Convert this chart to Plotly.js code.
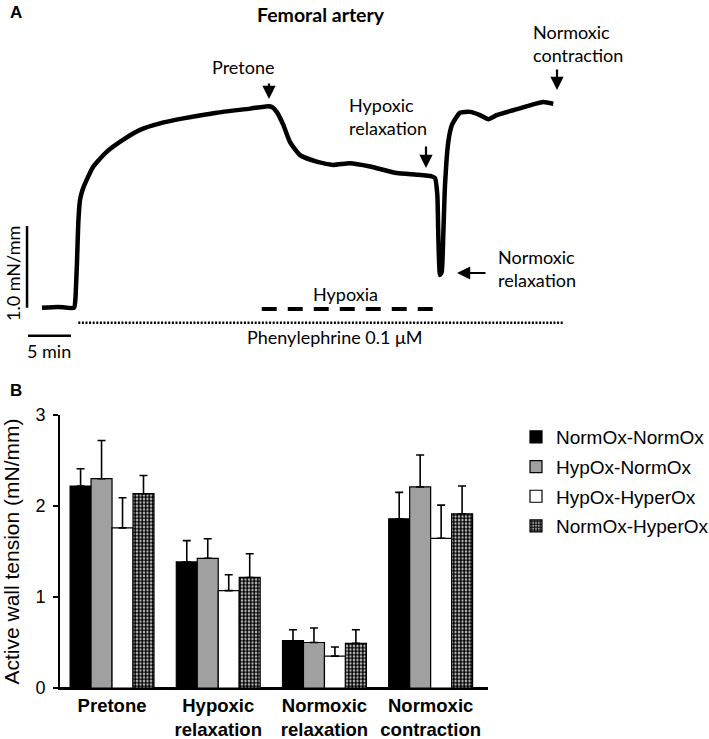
<!DOCTYPE html>
<html>
<head>
<meta charset="utf-8">
<script src="https://cdn.plot.ly/plotly-3.0.1.min.js"></script>
<style>html,body{margin:0;padding:0;background:#fff;}#chart{width:709px;height:739px;}</style>
</head>
<body>
<div id="chart"></div>
<script>
// ---------- Panel A: tension trace (time in min, tension in mN/mm) ----------
const traceTime = [0, 1.86, 3.72, 3.88, 3.97, 4.07, 4.22, 4.42, 4.70, 5.0, 5.97, 7.52, 9.45, 11.40, 13.72, 16.43, 20.31, 24.19, 26.31, 26.74, 27.29, 28.06, 28.84, 30.0, 31.94, 33.87, 35.81, 38.14, 41.24, 43.57, 45.31, 45.70, 45.97, 46.08, 46.28, 46.48, 46.66, 46.86, 47.24, 47.67, 48.60, 49.77, 50.93, 51.90, 52.87, 54.80, 56.74, 58.29, 59.45];
const traceTension = [0.00, 0.01, 0.00, 0.10, 0.30, 0.56, 1.04, 1.32, 1.44, 1.52, 1.73, 1.91, 2.06, 2.18, 2.26, 2.32, 2.39, 2.44, 2.47, 2.46, 2.40, 2.24, 2.03, 1.87, 1.79, 1.75, 1.77, 1.73, 1.65, 1.63, 1.61, 1.59, 1.38, 0.89, 0.40, 0.44, 0.89, 1.50, 2.03, 2.24, 2.39, 2.40, 2.36, 2.31, 2.36, 2.42, 2.48, 2.52, 2.50];
const hypoxiaPeriod = [25.55, 45.70];       // min
const phenylephrinePeriod = [4.22, 60.55];  // min
const scaleBarTime = 5;      // min
const scaleBarTension = 1.0; // mN/mm

// ---------- Panel B: bar chart ----------
const categories = ["Pretone", "Hypoxic<br>relaxation", "Normoxic<br>relaxation", "Normoxic<br>contraction"];
const seriesNames = ["NormOx-NormOx", "HypOx-NormOx", "HypOx-HyperOx", "NormOx-HyperOx"];
const normNorm = [2.22, 1.385, 0.52, 1.86];
const normNormErr = [0.19, 0.235, 0.12, 0.29];
const hypNorm = [2.30, 1.425, 0.50, 2.21];
const hypNormErr = [0.42, 0.215, 0.16, 0.35];
const hypHyper = [1.76, 1.07, 0.35, 1.645];
const hypHyperErr = [0.33, 0.175, 0.10, 0.365];
const normHyper = [2.135, 1.215, 0.49, 1.915];
const normHyperErr = [0.20, 0.26, 0.15, 0.305];
const yTicks = [0, 1, 2, 3];

const W = 709, H = 739;
const px = x => x / W;
const py = y => 1 - y / H;

const serif = 'Lato, "Noto Sans", sans-serif';
const arial = 'Arial, "Liberation Sans", sans-serif';

function barTrace(name, vals, errs, fill, pattern) {
  const t = {
    type: 'bar', name: name, x: categories, y: vals,
    xaxis: 'x', yaxis: 'y', legendgroup: name,
    marker: { color: fill, line: { color: '#000', width: 1.2 } },
    error_y: { type: 'data', symmetric: false, array: errs, arrayminus: errs.map(() => 0),
               color: '#000', thickness: 1.6, width: 4 },
    hoverinfo: 'skip'
  };
  if (pattern) t.marker.pattern = pattern;
  return t;
}

const data = [
  { type: 'scatter', mode: 'lines', x: traceTime, y: traceTension, xaxis: 'x2', yaxis: 'y2',
    line: { color: '#000', width: 4.5, shape: 'spline', smoothing: 0.5 }, showlegend: false, hoverinfo: 'skip' },
  barTrace(seriesNames[0], normNorm, normNormErr, '#000000'),
  barTrace(seriesNames[1], hypNorm, hypNormErr, '#a0a0a0'),
  barTrace(seriesNames[2], hypHyper, hypHyperErr, '#ffffff'),
  barTrace(seriesNames[3], normHyper, normHyperErr, '#ffffff',
           { shape: '.', fgcolor: '#000', bgcolor: '#fff', size: 3.5, solidity: 0.7 })
];

function txt(t, x, y, opts) {
  return Object.assign({ text: t, x: px(x), y: py(y), xref: 'paper', yref: 'paper',
    showarrow: false, xanchor: 'center', yanchor: 'middle', align: 'left',
    font: { family: serif, size: 18, color: '#000' } }, opts || {});
}
function arrow(x, y, ax, ay) {
  return { text: '', x: px(x), y: py(y), xref: 'paper', yref: 'paper', showarrow: true,
    ax: ax, ay: ay, arrowhead: 2, arrowsize: 1.2, arrowwidth: 2.2, arrowcolor: '#000', standoff: 0 };
}

const annotations = [
  txt('<b>A</b>', 8, 13, { xanchor: 'left', font: { family: arial, size: 17, color: '#000' } }),
  txt('<b>B</b>', 8, 391, { xanchor: 'left', font: { family: arial, size: 17, color: '#000' } }),
  txt('<b>Femoral artery</b>', 321, 14, { font: { family: serif, size: 19.5, color: '#000' } }),
  txt('Pretone', 243, 67),
  txt('Hypoxic<br>relaxation', 347, 117, { xanchor: 'left' }),
  txt('Normoxic<br>contraction', 531, 43, { xanchor: 'left' }),
  txt('Normoxic<br>relaxation', 496, 268, { xanchor: 'left' }),
  txt('Hypoxia', 345, 294),
  txt('Phenylephrine 0.1 μM', 335, 337),
  txt('5 min', 49, 351),
  txt('1.0 mN/mm', 13, 274, { textangle: -90 }),
  arrow(269, 99, 0, -17),
  arrow(426, 168, 0, -23),
  arrow(557, 90, 0, -22),
  arrow(457, 273, 30, 0)
];

const shapes = [
  { type: 'line', xref: 'x2', yref: 'y2', x0: -1.74, x1: -1.74, y0: 0, y1: scaleBarTension,
    line: { color: '#000', width: 2.5 } },
  { type: 'line', xref: 'x2', yref: 'y2', x0: -1.63, x1: -1.63 + scaleBarTime, y0: -0.343, y1: -0.343,
    line: { color: '#000', width: 2.5 } },
  { type: 'line', xref: 'x2', yref: 'y2', x0: hypoxiaPeriod[0], x1: hypoxiaPeriod[1], y0: -0.016, y1: -0.016,
    line: { color: '#000', width: 4, dash: '15px,11px' } },
  { type: 'line', xref: 'x2', yref: 'y2', x0: phenylephrinePeriod[0], x1: phenylephrinePeriod[1], y0: -0.184, y1: -0.184,
    line: { color: '#000', width: 2.5, dash: '2px,1.6px' } }
];

const layout = {
  width: W, height: H,
  margin: { l: 0, r: 0, t: 0, b: 0, autoexpand: false },
  paper_bgcolor: '#fff', plot_bgcolor: 'rgba(0,0,0,0)',
  barmode: 'group', bargap: 0.21, bargroupgap: 0,
  showlegend: true,
  legend: { x: px(516), y: py(418), xanchor: 'left', yanchor: 'top',
    font: { family: arial, size: 19, color: '#000' }, tracegroupgap: 2,
    bgcolor: 'rgba(0,0,0,0)', itemclick: false },
  xaxis: { domain: [px(60), px(488)], anchor: 'y', range: [-0.49, 3.54],
    showline: true, linecolor: '#000', linewidth: 2, ticks: '', showgrid: false, zeroline: false,
    tickfont: { family: arial, size: 18.5, color: '#000', weight: 'bold' }, fixedrange: true },
  yaxis: { domain: [py(688), py(415)], anchor: 'x', range: [0, 3],
    tickvals: yTicks, ticktext: yTicks.map(String),
    showline: true, linecolor: '#000', linewidth: 2, ticks: 'outside', ticklen: 5, tickwidth: 2, tickcolor: '#000',
    showgrid: false, zeroline: true, zerolinecolor: '#000', zerolinewidth: 2, ticklabelstandoff: 4,
    tickfont: { family: arial, size: 18, color: '#000' },
    title: { text: 'Active wall tension (mN/mm)', font: { family: arial, size: 21, color: '#000' }, standoff: 10 },
    fixedrange: true },
  xaxis2: { domain: [0, 1], anchor: 'y2', range: [-4.884, 77.558], visible: false, fixedrange: true },
  yaxis2: { domain: [0.5, 1], anchor: 'x2', range: [-0.757, 3.771], visible: false, fixedrange: true },
  annotations: annotations,
  shapes: shapes
};

Plotly.newPlot('chart', data, layout, { staticPlot: true, displayModeBar: false });
</script>
</body>
</html>
